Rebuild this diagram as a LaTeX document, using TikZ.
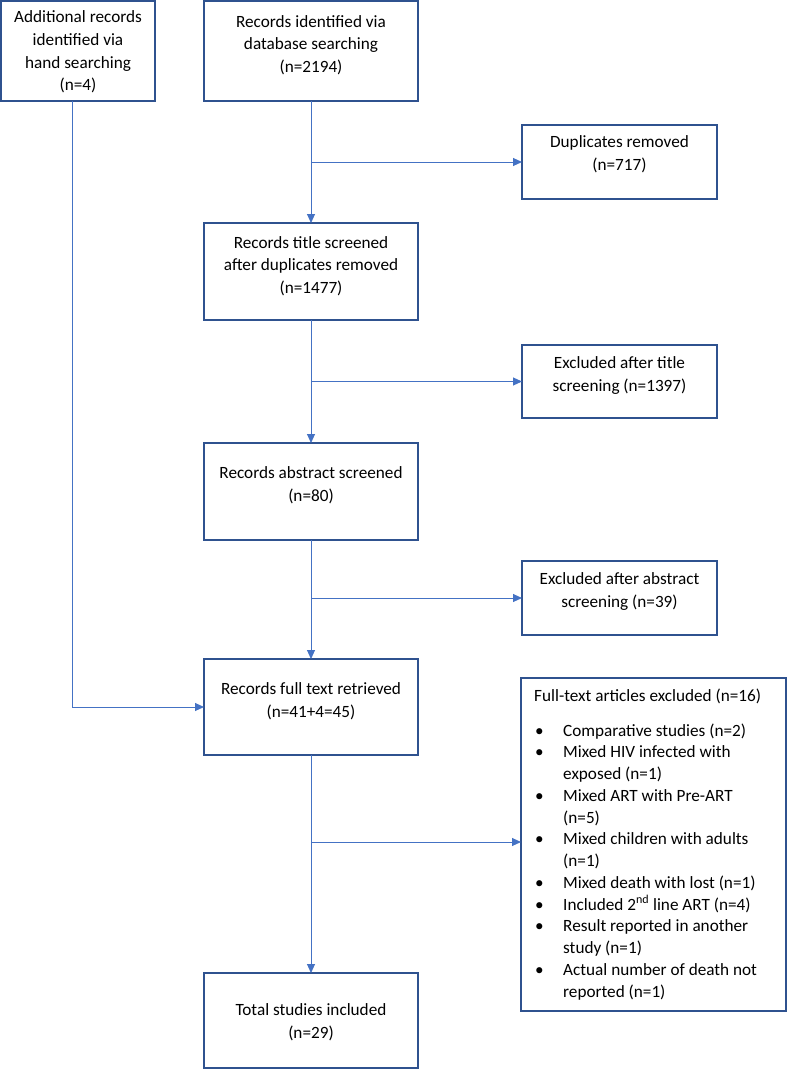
\documentclass[tikz,border=0pt]{standalone}
\usepackage{fontspec}
\setmainfont{Carlito}
\usetikzlibrary{arrows.meta}
\definecolor{boxblue}{RGB}{47,82,143}
\definecolor{lineblue}{RGB}{68,114,196}
\begin{document}
\begin{tikzpicture}[x=1pt,y=-1pt,
  box/.style={draw=boxblue,line width=1.4pt,inner sep=0pt,outer sep=0pt},
  txt/.style={inner sep=0pt,align=center,font=\fontsize{17.2}{22.7}\selectfont},
  conn/.style={draw=lineblue,line width=1pt},
  arr/.style={conn,-{Triangle[length=9pt,width=8pt]}}]
\useasboundingbox (0,0) rectangle (787,1070);

% boxes
\node[box,minimum width=154pt,minimum height=100pt] (hand) at (78,51) {};
\node[box,minimum width=214pt,minimum height=100pt] (db) at (311,51) {};
\node[box,minimum width=195pt,minimum height=74pt] (dup) at (619.5,162) {};
\node[box,minimum width=214pt,minimum height=97pt] (title) at (311,271.5) {};
\node[box,minimum width=195pt,minimum height=73pt] (excltitle) at (619.5,381.5) {};
\node[box,minimum width=214pt,minimum height=97pt] (abs) at (311,491.5) {};
\node[box,minimum width=195pt,minimum height=74pt] (exclabs) at (619.5,598) {};
\node[box,minimum width=214pt,minimum height=96pt] (full) at (311,707) {};
\node[box,minimum width=265pt,minimum height=333pt] (fullexcl) at (653.5,844.5) {};
\node[box,minimum width=214pt,minimum height=95pt] (total) at (311,1020.5) {};

% texts
\node[txt] (handt) at (78,52) {Additional records\\identified via\\hand searching\\(n=4)};
\node[txt] (dbt) at (311,45) {Records identified via\\database searching\\(n=2194)};
\node[txt] (dupt) at (619.5,154) {Duplicates removed\\(n=717)};
\node[txt] (titlet) at (311,266) {Records title screened\\after duplicates removed\\(n=1477)};
\node[txt] (excltitlet) at (619.5,375.5) {Excluded after title\\screening (n=1397)};
\node[txt] (abst) at (311,485) {Records abstract screened\\(n=80)};
\node[txt] (exclabst) at (619.5,591.5) {Excluded after abstract\\screening (n=39)};
\node[txt] (fullt) at (311,701) {Records full text retrieved\\(n=41+4=45)};
\node[txt] (totalt) at (311,1022) {Total studies included\\(n=29)};

\node[inner sep=0pt,anchor=base west,font=\fontsize{17.2}{22.7}\selectfont] (fxhead) at (534,701) {Full-text articles excluded (n=16)};
\node[inner sep=0pt,anchor=base west,font=\fontsize{17.2}{21.75}\selectfont] (fxlist) at (534,736) {%
\renewcommand{\arraystretch}{1}%
\begin{tabular}[t]{@{}p{29pt}@{}l@{}}
\hspace{1pt}• & Comparative studies (n=2)\\
\hspace{1pt}• & Mixed HIV infected with\\
 & exposed (n=1)\\
\hspace{1pt}• & Mixed ART with Pre-ART\\
 & (n=5)\\
\hspace{1pt}• & Mixed children with adults\\
 & (n=1)\\
\hspace{1pt}• & Mixed death with lost (n=1)\\
\hspace{1pt}• & Included 2\textsuperscript{nd} line ART (n=4)\\
\hspace{1pt}• & Result reported in another\\
 & study (n=1)\\
\hspace{1pt}• & Actual number of death not\\
 & reported (n=1)
\end{tabular}};

% junctions
\coordinate (j1) at (311,162);
\coordinate (j2) at (311,381.5);
\coordinate (j3) at (311,598);
\coordinate (j4) at (311,842);

% connectors
\draw[arr] (db.south) -- (title.north);
\draw[arr] (j1) -- (dup.west);
\draw[arr] (title.south) -- (abs.north);
\draw[arr] (j2) -- (excltitle.west);
\draw[arr] (abs.south) -- (full.north);
\draw[arr] (j3) -- (exclabs.west);
\draw[arr] (full.south) -- (total.north);
\draw[arr] (j4) -- (fullexcl.west |- j4);
\draw[arr] ([xshift=-6pt]hand.south) |- (full.west);
\end{tikzpicture}
\end{document}
